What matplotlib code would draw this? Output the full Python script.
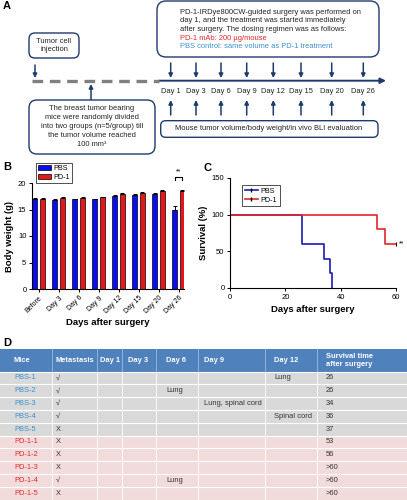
import matplotlib
matplotlib.use("Agg")
import matplotlib.pyplot as plt
from matplotlib.patches import FancyBboxPatch, FancyArrowPatch, Rectangle
from matplotlib.lines import Line2D
import numpy as np

plt.rcParams['font.family'] = ['Liberation Sans', 'DejaVu Sans']

# ---------------- data ----------------
bw_categories = ['Before', 'Day 3', 'Day 6', 'Day 9', 'Day 12', 'Day 15', 'Day 20', 'Day 26']
bw_pbs = [16.9, 16.8, 16.9, 16.9, 17.6, 17.8, 17.9, 14.9]
bw_pbs_err = [0.2, 0.15, 0.15, 0.15, 0.2, 0.2, 0.15, 0.7]
bw_pd1 = [16.9, 17.1, 17.1, 17.3, 17.9, 18.1, 18.4, 18.4]
bw_pd1_err = [0.2, 0.25, 0.2, 0.15, 0.3, 0.2, 0.2, 0.2]

pbs_days = [0, 26, 34, 36, 37]
pbs_surv = [100, 60, 40, 20, 0]
pd1_days = [0, 53, 56, 60]
pd1_surv = [100, 80, 60, 60]

timeline_days = ['Day 1', 'Day 3', 'Day 6', 'Day 9', 'Day 12', 'Day 15', 'Day 20', 'Day 26']

table_header = ['Mice', 'Metastasis', 'Day 1', 'Day 3', 'Day 6', 'Day 9', 'Day 12', 'Survival time\nafter surgery']
mice = ['PBS-1', 'PBS-2', 'PBS-3', 'PBS-4', 'PBS-5', 'PD-1-1', 'PD-1-2', 'PD-1-3', 'PD-1-4', 'PD-1-5']
metastasis = ['√', '√', '√', '√', 'X', 'X', 'X', 'X', '√', 'X']
met_day1 = [''] * 10
met_day3 = [''] * 10
met_day6 = ['', 'Lung', '', '', '', '', '', '', 'Lung', '']
met_day9 = ['', '', 'Lung, spinal cord', '', '', '', '', '', '', '']
met_day12 = ['Lung', '', '', 'Spinal cord', '', '', '', '', '', '']
survival_time = ['26', '26', '34', '36', '37', '53', '56', '>60', '>60', '>60']

# ---------------- figure ----------------
W, H = 407, 500
fig = plt.figure(figsize=(W / 100, H / 100), dpi=100)
bg = fig.add_axes([0, 0, 1, 1])
bg.set_xlim(0, W)
bg.set_ylim(H, 0)
bg.axis('off')

navy = '#1f3a6e'
blue_txt = '#3a8fd0'
red_txt = '#e3262e'

# panel letters
for lab, x, y in [('A', 3, 6), ('B', 3, 167), ('C', 203, 168), ('D', 3, 343)]:
    bg.text(x, y, lab, fontsize=8, fontweight='bold', va='center', ha='left')

# ---------------- Panel A ----------------
def rbox(x0, y0, x1, y1, r=7):
    p = FancyBboxPatch((x0, y0), x1 - x0, y1 - y0,
                       boxstyle=f'round,pad=0,rounding_size={r}',
                       fc='white', ec=navy, lw=1.0)
    bg.add_patch(p)

def arrow(x, y0, y1):
    a = FancyArrowPatch((x, y0), (x, y1), arrowstyle='-|>', mutation_scale=6,
                        color=navy, lw=1.1, shrinkA=0, shrinkB=0)
    bg.add_patch(a)

fs_a = 5.4
rbox(157, 1, 379, 57, r=9)
lines_top = ['PD-1-IRDye800CW-guided surgery was performed on',
             'day 1, and the treatment was started immediately',
             'after surgery. The dosing regimen was as follows:']
for i, t in enumerate(lines_top):
    bg.text(180, 12.3 + 8.6 * i, t, fontsize=fs_a, va='center', ha='left', color='#222222')
bg.text(180, 38.3, 'PD-1 mAb: 200 µg/mouse', fontsize=fs_a, va='center', ha='left', color=red_txt)
bg.text(180, 46.8, 'PBS control: same volume as PD-1 treatment', fontsize=fs_a, va='center', ha='left', color=blue_txt)

rbox(29, 33, 79, 58, r=6)
bg.text(54, 45.5, 'Tumor cell\ninjection', fontsize=fs_a, ha='center', va='center',
        linespacing=1.3, color='#222222')
arrow(35, 65, 78)

# timeline
bg.plot([32, 159], [80.7, 80.7], color='#808080', lw=2.4, ls=(0, (3.2, 2.0)), solid_capstyle='butt')
bg.add_patch(FancyArrowPatch((159, 80.7), (386, 80.7), arrowstyle='-|>', mutation_scale=8,
                             color=navy, lw=1.4, shrinkA=0, shrinkB=0))
arrow(91, 100, 84)

rbox(29, 100, 155, 154, r=8)
lines_bl = ['The breast tumor bearing', 'mice were randomly divided', 'into two groups (n=5/group) till',
            'the tumor volume reached', '100 mm³']
for i, t in enumerate(lines_bl):
    bg.text(92, 108.5 + 8.9 * i, t, fontsize=fs_a, ha='center', va='center', color='#222222')

day_x = [170.7, 196, 221, 246.7, 273.3, 301, 331.7, 363.3]
for x, d in zip(day_x, timeline_days):
    arrow(x, 63, 78)
    bg.text(x, 91.7, d, fontsize=fs_a, ha='center', va='center', color='#222222')
    arrow(x, 115, 100)

rbox(160.7, 120.7, 378, 137.3, r=5)
bg.text(269, 129, 'Mouse tumor volume/body weight/in vivo BLI evaluation', fontsize=fs_a,
        ha='center', va='center', color='#222222')

# ---------------- Panel B ----------------
axB = fig.add_axes([32 / W, 1 - 289 / H, (184 - 32) / W, (289 - 183) / H])
x = np.arange(len(bw_categories))
off, bwid = 0.19, 0.25
bar_blue = '#0c0cf0'
bar_red = '#e5171b'
axB.bar(x - off, bw_pbs, width=bwid, color=bar_blue, edgecolor='black', lw=0.5,
        yerr=[np.zeros(len(x)), bw_pbs_err], error_kw=dict(ecolor='black', elinewidth=0.7, capsize=1.5, capthick=0.7))
axB.bar(x + off, bw_pd1, width=bwid, color=bar_red, edgecolor='black', lw=0.5,
        yerr=[np.zeros(len(x)), bw_pd1_err], error_kw=dict(ecolor='black', elinewidth=0.7, capsize=1.5, capthick=0.7))
axB.set_xlim(-0.34, 7.27)
axB.set_ylim(0, 20)
axB.set_yticks([0, 5, 10, 15, 20])
axB.set_xticks(x)
axB.set_xticklabels(bw_categories, rotation=45, ha='right', rotation_mode='anchor', fontsize=5)
axB.tick_params(axis='y', labelsize=5.5, length=2.5, width=0.7, pad=1.5)
axB.tick_params(axis='x', length=2.5, width=0.7, pad=1.5)
for s in ['top', 'right']:
    axB.spines[s].set_visible(False)
for s in ['left', 'bottom']:
    axB.spines[s].set_linewidth(0.8)
axB.set_ylabel('Body weight (g)', fontsize=6.8, fontweight='bold', labelpad=3)
axB.set_xlabel('Days after surgery', fontsize=6.8, fontweight='bold', labelpad=2)
# significance bracket
i26 = len(x) - 1
axB.plot([i26 - off, i26 - off, i26 + off, i26 + off], [20.5, 21.2, 21.2, 20.5], color='black', lw=0.8, clip_on=False)
axB.text(i26, 21.45, '**', fontsize=5, ha='center', va='bottom', clip_on=False)
legB = axB.legend(handles=[Rectangle((0, 0), 1, 1, fc=bar_blue, ec='black', lw=0.5, label='PBS'),
                           Rectangle((0, 0), 1, 1, fc=bar_red, ec='black', lw=0.5, label='PD-1')],
                  loc='upper left', bbox_to_anchor=(36 / W, 1 - 163 / H), bbox_transform=fig.transFigure,
                  fontsize=5.2, frameon=True, fancybox=False, edgecolor='black', handlelength=1.8,
                  handleheight=0.8, borderpad=0.25, labelspacing=0.2, handletextpad=0.4, borderaxespad=0)
legB.get_frame().set_linewidth(0.6)

# ---------------- Panel C ----------------
axC = fig.add_axes([230 / W, 1 - 288 / H, (396 - 230) / W, (288 - 178) / H])
c_blue = '#1a1ab4'
c_red = '#e3262a'
axC.plot(pbs_days, pbs_surv, drawstyle='steps-post', color=c_blue, lw=1.2, label='PBS')
axC.plot(pd1_days, pd1_surv, drawstyle='steps-post', color=c_red, lw=1.2, label='PD-1')
axC.plot([pd1_days[-1]], [pd1_surv[-1]], marker='|', color='black', ms=3, mew=0.7)
axC.text(pd1_days[-1] + 1.2, pd1_surv[-1], '**', fontsize=5, ha='left', va='center', clip_on=False)
axC.set_xlim(0, 60)
axC.set_ylim(0, 150)
axC.set_xticks([0, 20, 40, 60])
axC.set_yticks([0, 50, 100, 150])
axC.tick_params(labelsize=5.5, length=2.5, width=0.7, pad=1.5)
for s in ['top', 'right']:
    axC.spines[s].set_visible(False)
for s in ['left', 'bottom']:
    axC.spines[s].set_linewidth(0.8)
axC.set_ylabel('Survival (%)', fontsize=6.8, fontweight='bold', labelpad=3)
axC.set_xlabel('Days after surgery', fontsize=6.8, fontweight='bold', labelpad=3)
legC = axC.legend(handles=[Line2D([0], [0], color=c_blue, lw=1.2, marker='|', ms=3, mec='black', label='PBS'),
                           Line2D([0], [0], color=c_red, lw=1.2, marker='|', ms=3, mec='black', label='PD-1')],
                  loc='upper left', bbox_to_anchor=(242 / W, 1 - 185 / H), bbox_transform=fig.transFigure,
                  fontsize=5.2, frameon=True, fancybox=False, edgecolor='black', handlelength=1.8,
                  borderpad=0.35, labelspacing=0.3, handletextpad=0.4, borderaxespad=0)
legC.get_frame().set_linewidth(0.6)

# ---------------- Panel D (table) ----------------
col_edges = [0, 52, 97, 122, 156, 198, 265, 317, 407]
text_x = [14, 56, 100, 128, 166, 204, 274, 326]
head_top, head_bot = 349, 371.5
row_h = 12.8
head_color = '#4f81bd'
grey_row = '#d9d9d9'
pink_row = '#f2dcdb'
fs_t = 5.4

bg.add_patch(Rectangle((0, head_top), W, head_bot - head_top, fc=head_color, ec='none'))
for j, h in enumerate(table_header):
    bg.text(text_x[j], (head_top + head_bot) / 2, h, fontsize=fs_t, fontweight='bold', color='white',
            ha='left', va='center', linespacing=1.15)

columns = [mice, metastasis, met_day1, met_day3, met_day6, met_day9, met_day12, survival_time]
for i in range(len(mice)):
    y0 = head_bot + i * row_h
    is_pbs = mice[i].startswith('PBS')
    bg.add_patch(Rectangle((0, y0), W, row_h, fc=grey_row if is_pbs else pink_row, ec='none'))
    for j, col in enumerate(columns):
        t = col[i]
        if not t:
            continue
        if j == 0:
            c = blue_txt if is_pbs else red_txt
        else:
            c = '#333333'
        bg.text(text_x[j], y0 + row_h / 2, t, fontsize=fs_t, color=c, ha='left', va='center')
    bg.plot([0, W], [y0, y0], color='white', lw=0.8)
for xe in col_edges[1:-1]:
    bg.plot([xe, xe], [head_top, head_bot], color='#9dbbe0', lw=0.6)
    bg.plot([xe, xe], [head_bot, head_bot + row_h * len(mice)], color='white', lw=0.6)

fig.savefig('out.png', dpi=100)
